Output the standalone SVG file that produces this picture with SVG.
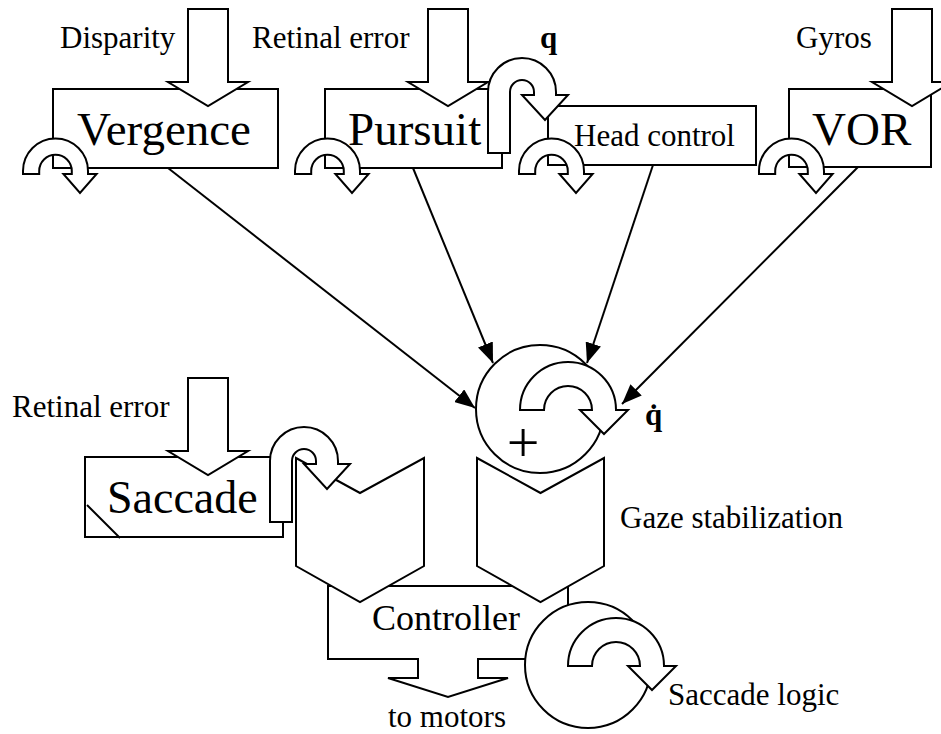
<svg xmlns="http://www.w3.org/2000/svg" width="941" height="734" viewBox="0 0 941 734">
<style>
.s{fill:#fff;stroke:#000;stroke-width:2;stroke-linejoin:miter}
.ln{fill:none;stroke:#000;stroke-width:2}
.t{font-family:"Liberation Serif","Times New Roman",serif;fill:#000}
.sm{font-size:31px}
.lg{font-size:47px}
.b{font-weight:bold}
</style>
<defs>
<marker id="ah" viewBox="0 0 20 16" refX="20" refY="8" markerWidth="20" markerHeight="16" markerUnits="userSpaceOnUse" orient="auto">
<path d="M0,0 L20,8 L0,16 Z" fill="#000"/>
</marker>
<path id="uturn" d="M0,0 L0,-3 A32.5,32.5 0 0 1 65,-3 L65,0 L73.6,0 L57,19 L40.4,0 L48.8,0 L48.8,-3 A16.3,16.3 0 0 0 16.2,-3 L16.2,0 Z"/>
<path id="bigdown" d="M-20,0 L20,0 L20,73 L40,73 L0,97 L-40,73 L-20,73 Z"/>
<path id="tall" d="M488,153 L488,92 A34,34 0 0 1 556,92 L556,95 L568,95 L545,120 L522,95 L534,95 L534,92 A12,12 0 0 0 510,92 L510,153 Z"/>
<path id="curl" d="M520,410 A48,48 0 0 1 616,410 L628,410 L604,434 L580,410 L592,410 A24,24 0 0 0 544,410 Z"/>
</defs>

<g id="vergence">
<rect class="s" x="53" y="89" width="225" height="79"/>
<use href="#bigdown" class="s" x="208" y="9"/>
<text class="t sm" x="60" y="48">Disparity</text>
<text class="t lg" x="77" y="145">Vergence</text>
<use href="#uturn" class="s" x="23" y="174"/>
</g>

<g id="pursuit">
<rect class="s" x="325" y="89" width="177" height="79"/>
<use href="#bigdown" class="s" x="448" y="9"/>
<text class="t sm" x="252" y="48">Retinal error</text>
<text class="t lg" x="348" y="145">Pursuit</text>
<use href="#uturn" class="s" x="295" y="174"/>
</g>

<g id="head-control">
<rect class="s" x="548" y="106" width="208" height="59"/>
<text class="t sm" x="574" y="146">Head control</text>
<use href="#uturn" class="s" x="519" y="174"/>
</g>

<g id="vor">
<rect class="s" x="789" y="89" width="142" height="78"/>
<use href="#bigdown" class="s" x="912" y="9"/>
<text class="t sm" x="796" y="48">Gyros</text>
<text class="t lg" x="812" y="145">VOR</text>
<use href="#uturn" class="s" x="759" y="174"/>
</g>

<g id="q-feedback">
<use href="#tall" class="s"/>
<text class="t sm b" x="540" y="48">q</text>
</g>

<g id="controller">
<path class="s" d="M328,586 L568,586 L568,659 L478,659 L478,678 L508,678 L448,697 L388,678 L418,678 L418,659 L328,659 Z"/>
<text class="t" font-size="36" x="372" y="630">Controller</text>
<text class="t sm" x="388" y="727">to motors</text>
</g>

<g id="saccade">
<rect class="s" x="85" y="457" width="198" height="80"/>
<line class="ln" x1="87" y1="505" x2="120" y2="538"/>
<use href="#bigdown" class="s" x="208" y="378"/>
<text class="t sm" x="12" y="417">Retinal error</text>
<text class="t" font-size="46" x="107" y="513">Saccade</text>
</g>

<g id="saccade-chevron">
<path class="s" d="M296,458 L360,493 L424,458 L424,566 L360,602 L296,566 Z"/>
</g>

<g id="gaze-stabilization">
<path class="s" d="M477,458 L540.5,493 L604,458 L604,566 L540.5,602 L477,566 Z"/>
<circle class="s" cx="540" cy="409" r="64"/>
<use href="#curl" class="s"/>
<text class="t" font-size="58" x="523" y="462" text-anchor="middle">+</text>
<text class="t sm b" x="645" y="425">q̇</text>
<text class="t sm" x="620" y="528">Gaze stabilization</text>
</g>

<g id="saccade-feedback">
<use href="#tall" class="s" x="-218" y="369"/>
</g>

<g id="saccade-logic">
<circle class="s" cx="588" cy="665" r="63"/>
<use href="#curl" class="s" x="48" y="256"/>
<text class="t sm" x="668" y="705">Saccade logic</text>
</g>

<g id="connectors">
<line class="ln" x1="168" y1="168" x2="475" y2="408" marker-end="url(#ah)"/>
<line class="ln" x1="413" y1="168" x2="493" y2="363" marker-end="url(#ah)"/>
<line class="ln" x1="653" y1="165" x2="587" y2="363" marker-end="url(#ah)"/>
<line class="ln" x1="858" y1="167" x2="622" y2="404" marker-end="url(#ah)"/>
</g>
</svg>
